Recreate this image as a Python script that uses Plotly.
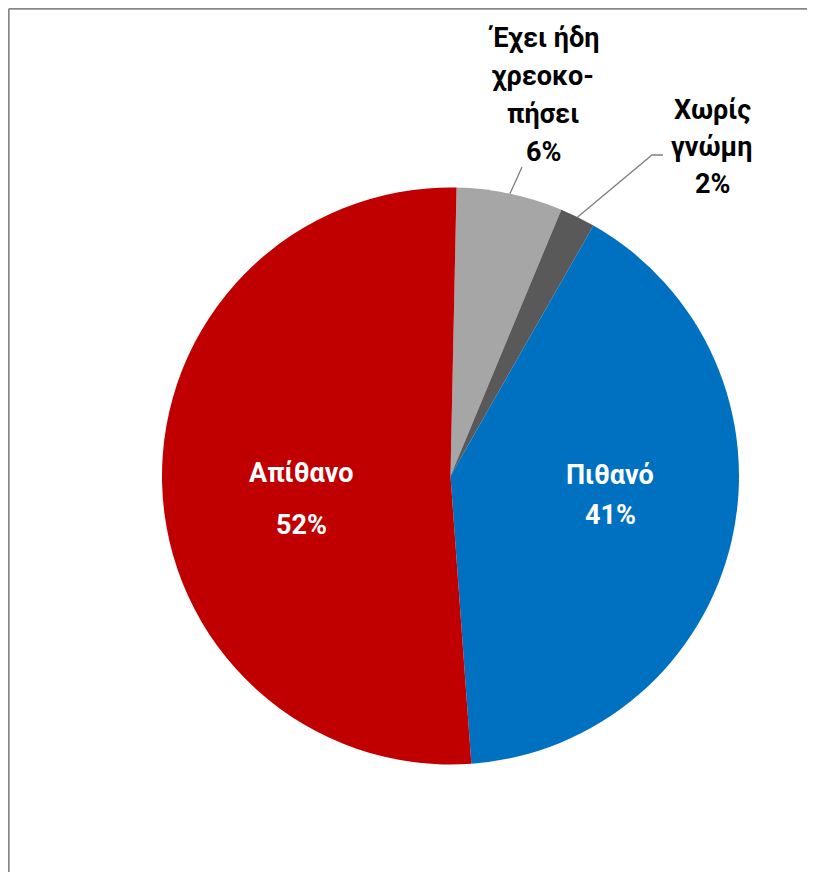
import math
import plotly.graph_objects as go

# data
labels = ["Έχει ήδη χρεοκοπήσει", "Χωρίς γνώμη", "Πιθανό", "Απίθανο"]
values = [6, 2, 41, 52]
pct_text = ["6%", "2%", "41%", "52%"]
colors = ["#A6A6A6", "#595959", "#0070C0", "#C00000"]

# the page has an 8px body margin, keep the figure inside the window
OFF = 8
W, H = 799, 864
cx, cy, r = 450.5, 476, 288.5   # pie centre/radius in window pixels
start_deg = 1.2

def px(x):
    return (x - OFF) / W

def py(y):
    return 1 - (y - OFF) / H

FONT = "Roboto"
FS = 27

fig = go.Figure(go.Pie(
    labels=labels,
    values=values,
    sort=False,
    direction="clockwise",
    rotation=start_deg,
    marker=dict(colors=colors, line=dict(width=0)),
    textinfo="none",
    hoverinfo="label+percent",
    showlegend=False,
    domain=dict(x=[px(cx - r), px(cx + r)], y=[py(cy + r), py(cy - r)]),
))

# mid angles of each slice (clockwise from 12 o'clock)
total = sum(values)
mids = []
acc = start_deg
for v in values:
    span = v / total * 360
    mids.append(acc + span / 2)
    acc += span

def edge(i):
    a = math.radians(mids[i])
    return cx + r * math.sin(a), cy - r * math.cos(a)

annotations = []
def add_lines(x, y_first, lines, color, step=38):
    for k, t in enumerate(lines):
        annotations.append(dict(
            x=px(x), y=py(y_first + k * step), xref="paper", yref="paper",
            text=t, showarrow=False, xanchor="center", yanchor="middle",
            font=dict(family=FONT, size=FS, color=color, weight="bold"),
        ))

# outside labels
add_lines(543, 38, ["Έχει ήδη", "χρεοκο-", "πήσει", pct_text[0]], "black")
add_lines(712, 110, ["Χωρίς", "γνώμη", pct_text[1]], "black", step=37)
# inside labels
add_lines(301, 473, [labels[3], pct_text[3]], "white", step=52)
add_lines(610, 475, [labels[2], pct_text[2]], "white", step=40)

shapes = []
# leader lines
x0, y0 = edge(0)
shapes.append(dict(type="line", xref="paper", yref="paper",
                   x0=px(x0), y0=py(y0), x1=px(522), y1=py(167),
                   line=dict(color="#7F7F7F", width=1.3)))
x0, y0 = edge(1)
shapes.append(dict(type="path", xref="paper", yref="paper",
                   path=f"M {px(x0)} {py(y0)} L {px(652)} {py(155)} L {px(663)} {py(155)}",
                   line=dict(color="#7F7F7F", width=1.3)))
# chart frame: only top and left edges are in view
shapes.append(dict(type="line", xref="paper", yref="paper",
                   x0=px(8.8), y0=py(8.8), x1=1, y1=py(8.8),
                   line=dict(color="#878787", width=1.8)))
shapes.append(dict(type="line", xref="paper", yref="paper",
                   x0=px(8.8), y0=py(8.8), x1=px(8.8), y1=0,
                   line=dict(color="#878787", width=1.8)))

fig.update_layout(
    width=W, height=H,
    margin=dict(l=0, r=0, t=0, b=0),
    paper_bgcolor="white",
    plot_bgcolor="white",
    annotations=annotations,
    shapes=shapes,
)

fig.write_html("out.html")
